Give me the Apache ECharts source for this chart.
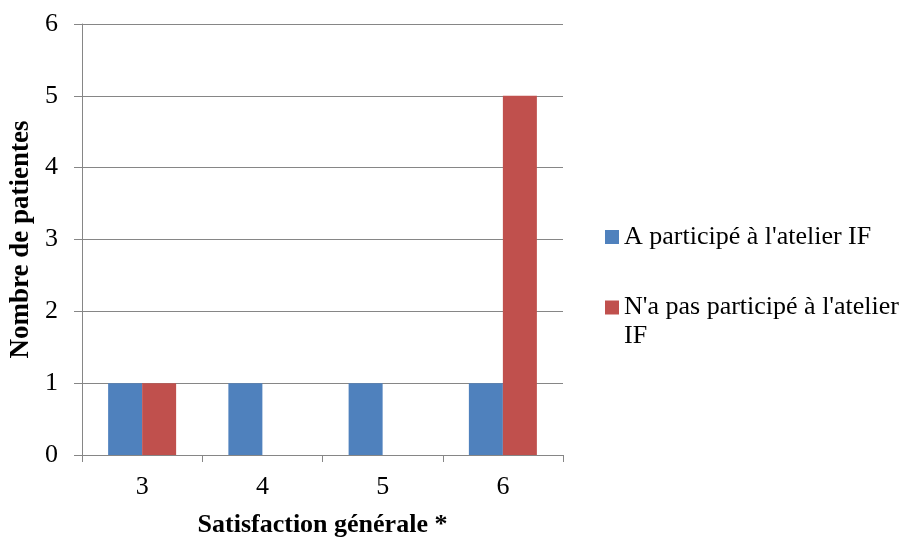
<!DOCTYPE html>
<html>
<head>
<meta charset="utf-8">
<script src="https://cdn.jsdelivr.net/npm/echarts@6/dist/echarts.min.js"></script>
<style>
html,body{margin:0;padding:0;background:#fff;}
#chart{width:909px;height:537px;}
</style>
</head>
<body>
<div id="chart"></div>
<script>
var categories = ['3', '4', '5', '6'];
var seriesNames = ["A participé à l'atelier IF", "N'a pas participé à l'atelier IF"];
var participated = [1, 1, 1, 1];
var notParticipated = [1, 0, 0, 5];
var yTicks = [0, 1, 2, 3, 4, 5, 6];

var FONT = '"Liberation Serif", "Times New Roman", serif';
var chart = echarts.init(document.getElementById('chart'), null, {renderer: 'canvas'});
chart.setOption({
  animation: false,
  backgroundColor: '#ffffff',
  grid: {left: 82, right: 346, top: 24, bottom: 82, containLabel: false, outerBoundsMode: 'none'},
  legend: [
    {
      data: [seriesNames[0]],
      left: 600, top: 218,
      itemWidth: 14, itemHeight: 14, itemGap: 6,
      icon: 'rect',
      textStyle: {fontFamily: FONT, fontSize: 26, color: '#000', lineHeight: 28}
    },
    {
      data: [seriesNames[1]],
      left: 600, top: 259,
      itemWidth: 14, itemHeight: 14,
      icon: 'rect',
      formatter: function () { return "\u00a0\nN'a pas participé à l'atelier\nIF"; },
      textStyle: {fontFamily: FONT, fontSize: 26, color: '#000', lineHeight: 29}
    }
  ],
  xAxis: {
    type: 'category',
    data: categories,
    name: 'Satisfaction générale *',
    nameLocation: 'middle',
    nameGap: 57,
    nameTextStyle: {fontFamily: FONT, fontSize: 26, fontWeight: 'bold', color: '#000'},
    axisLine: {lineStyle: {color: '#868686', width: 1}},
    axisTick: {show: true, length: 7, lineStyle: {color: '#868686'}},
    axisLabel: {fontFamily: FONT, fontSize: 26, color: '#000', margin: 19}
  },
  yAxis: {
    type: 'value',
    min: yTicks[0], max: yTicks[yTicks.length - 1], interval: 1,
    name: 'Nombre de patientes',
    nameLocation: 'middle',
    nameGap: 41,
    nameTextStyle: {fontFamily: FONT, fontSize: 27, fontWeight: 'bold', color: '#000'},
    axisLine: {show: true, lineStyle: {color: '#868686', width: 1}},
    axisTick: {show: true, length: 8, lineStyle: {color: '#868686'}},
    splitLine: {show: true, lineStyle: {color: '#868686', width: 1}},
    axisLabel: {fontFamily: FONT, fontSize: 26, color: '#000', margin: 24}
  },
  series: [
    {name: seriesNames[0], type: 'bar', data: participated, barWidth: 34, barGap: '0%',
     itemStyle: {color: '#4F81BD'}},
    {name: seriesNames[1], type: 'bar', data: notParticipated, barWidth: 34, barGap: '0%',
     itemStyle: {color: '#C0504D'}}
  ]
});
</script>
</body>
</html>
